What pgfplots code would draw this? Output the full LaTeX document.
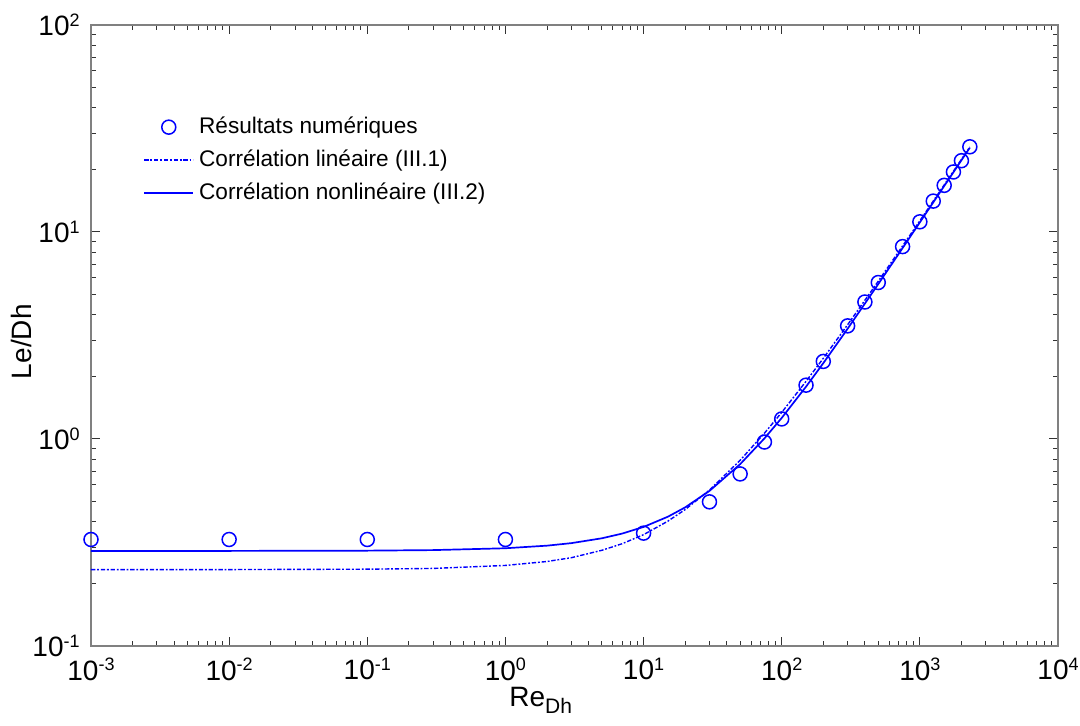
\documentclass[border=0pt]{standalone}
\usepackage{fontspec}
\setmainfont{Liberation Sans}
\usepackage{pgfplots}
\pgfplotsset{compat=1.18}

% tick label 10^k in text font
\newcommand{\tl}[1]{10\raisebox{4.6pt}{\fontsize{9}{9}\selectfont #1}}

\begin{document}
\begin{tikzpicture}
\path[use as bounding box] (-45.5pt,-40pt) rectangle (494.5pt,323pt);
\begin{loglogaxis}[
  scale only axis, width=483.5pt, height=310.5pt,
  xmin=1e-3, xmax=1e4, ymin=1e-1, ymax=1e2,
  xtick={1e-3,1e-2,1e-1,1,1e1,1e2,1e3,1e4},
  xticklabels={\tl{-3},\tl{-2},\tl{-1},\tl{0},\tl{1},\tl{2},\tl{3},\tl{4}},
  ytick={1e-1,1,1e1,1e2},
  yticklabels={\tl{-1},\tl{0},\tl{1},\tl{2}},
  minor xtick={2e-3,3e-3,4e-3,5e-3,6e-3,7e-3,8e-3,9e-3,
               2e-2,3e-2,4e-2,5e-2,6e-2,7e-2,8e-2,9e-2,
               0.2,0.3,0.4,0.5,0.6,0.7,0.8,0.9,
               2,3,4,5,6,7,8,9,
               20,30,40,50,60,70,80,90,
               200,300,400,500,600,700,800,900,
               2000,3000,4000,5000,6000,7000,8000,9000},
  minor ytick={0.2,0.3,0.4,0.5,0.6,0.7,0.8,0.9,
               2,3,4,5,6,7,8,9,
               20,30,40,50,60,70,80,90},
  tick pos=both, tick align=inside,
  major tick length=4.5pt, minor tick length=2.5pt,
  axis line style={black!50, line width=0.6pt},
  tick style={black!80, line width=0.5pt},
  ticklabel style={font=\fontsize{14}{14}\selectfont},
  xticklabel style={anchor=north, inner sep=0pt, yshift=-6pt},
  yticklabel style={anchor=east, inner sep=0pt, xshift=-5.5pt},
  xlabel={Re\raisebox{-3.5pt}{\fontsize{10.5}{10.5}\selectfont Dh}},
  xlabel style={at={(axis description cs:0.465,-0.098)}, anchor=base,
                inner sep=0pt, font=\fontsize{14}{14}\selectfont},
  ylabel={Le/Dh},
  ylabel style={at={(axis description cs:-0.061,0.49)}, anchor=base,
                inner sep=0pt, font=\fontsize{14}{14}\selectfont},
  clip mode=individual,
  legend image code/.code={\draw[mark repeat=2,mark phase=2,#1]
      plot coordinates {(0pt,0pt) (12.25pt,0pt) (24.5pt,0pt)};},
  legend style={draw=none, fill=none, inner sep=0pt,
                at={(axis description cs:0.0538,0.7826)}, anchor=west,
                font=\fontsize{11.3}{11.3}\selectfont, row sep=2.6pt,
                /tikz/every odd column/.append style={column sep=0.5pt}},
  legend cell align=left,
]
\addplot[only marks, mark=o, mark size=3.5pt, blue,
         mark options={line width=0.75pt}] coordinates {
  (0.001,0.327) (0.01,0.327) (0.1,0.327) (1,0.327)
  (10,0.351) (30,0.497) (50,0.678) (75,0.967) (100,1.25)
  (150,1.82) (200,2.37) (300,3.52) (400,4.59) (500,5.70)
  (750,8.50) (1000,11.2) (1250,14.1) (1500,16.8) (1750,19.5)
  (2000,22.1) (2300,25.8)};
\addlegendentry{Résultats numériques}

\addplot[blue, line width=0.7pt,
         dash pattern=on 2.2pt off 0.9pt on 0.9pt off 0.9pt] coordinates {
  (0.001,0.234) (0.01,0.234) (0.1,0.235) (0.3,0.237) (1,0.245)
  (2,0.256) (3,0.267) (5,0.290) (7,0.312) (10,0.345) (15,0.401)
  (20,0.456) (30,0.567) (50,0.789) (75,1.067) (100,1.344)
  (150,1.899) (200,2.454) (300,3.564) (500,5.784) (750,8.559)
  (1000,11.33) (1500,16.88) (2000,22.43) (2300,25.76)};
\addlegendentry{Corrélation linéaire (III.1)}

\addplot[blue, line width=0.85pt] coordinates {
  (0.001,0.288) (0.01,0.288) (0.1,0.2888) (0.3,0.2906) (1,0.2966)
  (2,0.3053) (3,0.3140) (5,0.3315) (7,0.3492) (10,0.3760)
  (15,0.4213) (20,0.4673) (30,0.5614) (50,0.7557) (75,1.0068)
  (100,1.264) (150,1.790) (200,2.325) (300,3.410) (500,5.604)
  (750,8.363) (1000,11.13) (1500,16.67) (2000,22.22) (2300,25.54)};
\addlegendentry{Corrélation nonlinéaire (III.2)}
\end{loglogaxis}
\end{tikzpicture}
\end{document}
